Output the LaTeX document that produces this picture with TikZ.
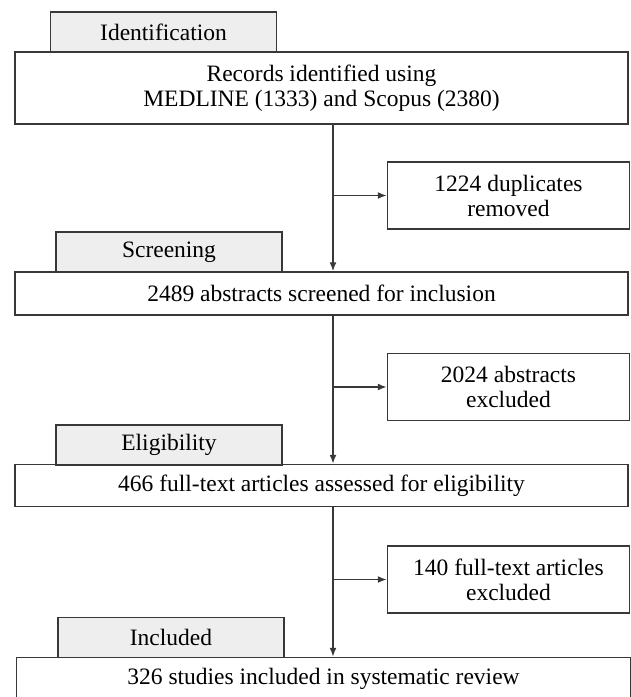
\documentclass[tikz,border=0pt]{standalone}
\usepackage{fontspec}
\setmainfont{Liberation Serif}
\usetikzlibrary{arrows.meta}
\definecolor{linec}{HTML}{383838}
\definecolor{tabfill}{HTML}{EEEEEE}
\tikzset{
  x=1pt,y=-1pt,
  every node/.style={font=\fontsize{23.5}{25}\selectfont, text=black, align=center, inner sep=0pt},
  bigbox/.style={draw=linec, line width=1.5pt, fill=white, minimum width=613pt},
  tabbox/.style={draw=linec, line width=1.5pt, fill=tabfill, minimum width=226pt, minimum height=40pt},
  sidebox/.style={draw=linec, line width=1.5pt, fill=white, minimum width=242pt, minimum height=67pt},
  arr/.style={draw=linec, line width=1.5pt, -{Latex[length=9pt,width=7pt]}}
}
\begin{document}
\begin{tikzpicture}
\useasboundingbox (0,0) rectangle (631,697);
\coordinate (sp) at (333,0);
% boxes
\node[bigbox, minimum height=72pt] (box1) at (321.5,88) {Records identified using\\MEDLINE (1333) and Scopus (2380)};
\node[tabbox] (idtab) at (163.5,32) {Identification};
\node[sidebox] (side1) at (508.5,195.5) {1224 duplicates\\removed};
\node[bigbox, minimum height=43pt] (box2) at (321.5,293.5) {2489 abstracts screened for inclusion};
\node[tabbox] (scrtab) at (169,252) {Screening};
\node[sidebox] (side2) at (508.5,387) {2024 abstracts\\excluded};
\node[bigbox, minimum height=42pt] (box3) at (321.5,485.5) {466 full-text articles assessed for eligibility};
\node[tabbox] (eltab) at (169,445) {Eligibility};
\node[sidebox] (side3) at (508.5,579.5) {140 full-text articles\\excluded};
\node[bigbox, minimum height=43pt, minimum width=614pt] (box4) at (323.5,679) {326 studies included in systematic review};
\node[tabbox] (inctab) at (171,637.5) {Included};
% connectors
\draw[arr] (box1.south -| sp) -- (box2.north -| sp);
\draw[arr] (side1.west -| sp) -- (side1.west);
\draw[arr] (box2.south -| sp) -- (box3.north -| sp);
\draw[arr] (side2.west -| sp) -- (side2.west);
\draw[arr] (box3.south -| sp) -- (box4.north -| sp);
\draw[arr] (side3.west -| sp) -- (side3.west);
\end{tikzpicture}
\end{document}
